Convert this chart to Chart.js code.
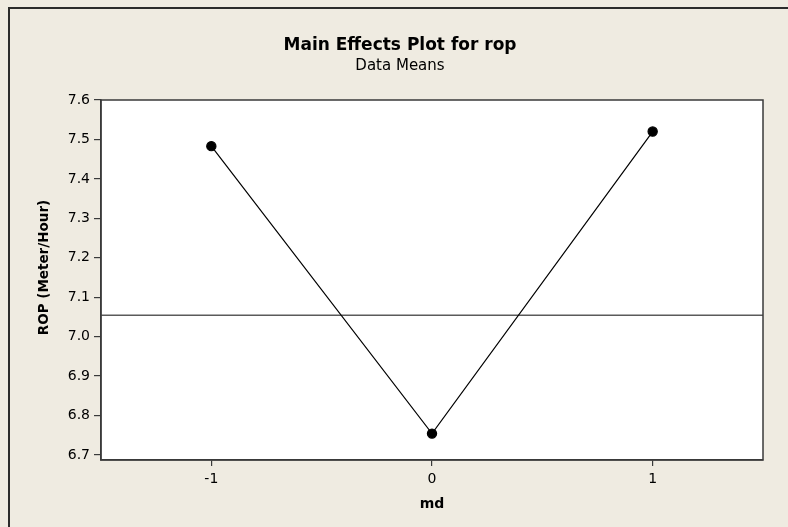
<!DOCTYPE html>
<html>
<head>
<meta charset="utf-8">
<script src="https://cdn.jsdelivr.net/npm/chart.js@4/dist/chart.umd.min.js"></script>
<style>
  html, body { margin: 0; padding: 0; background: #efebe1; }
  #wrap { width: 788px; height: 527px; }
</style>
</head>
<body>
<div id="wrap"><canvas id="c" width="788" height="527"></canvas></div>
<script>
// Factor levels of md and the mean ROP at each level
const levels = [-1, 0, 1];
const ropMeans = [7.483, 6.754, 7.520];
// Overall mean of the response (reference line)
const grandMean = 7.054;
// Tick labels
const xTicks = [-1, 0, 1];
const yTicks = [6.7, 6.8, 6.9, 7.0, 7.1, 7.2, 7.3, 7.4, 7.5, 7.6];
const yAxisTitle = 'ROP (Meter/Hour)';

const FONT = "'DejaVu Sans', Verdana, sans-serif";

// Beige panel with dark frame on top/left, white plot area with a dark border
const panelPlugin = {
  id: 'panel',
  beforeDraw(chart) {
    const { ctx, width, height, chartArea: a } = chart;
    ctx.save();
    ctx.fillStyle = '#efebe1';
    ctx.fillRect(0, 0, width, height);
    ctx.strokeStyle = '#2b2b2b';
    ctx.lineWidth = 2;
    ctx.beginPath();
    ctx.moveTo(9, height);
    ctx.lineTo(9, 8);
    ctx.lineTo(width, 8);
    ctx.stroke();
    ctx.fillStyle = '#ffffff';
    ctx.fillRect(a.left, a.top, a.right - a.left, a.bottom - a.top);
    ctx.restore();
  },
  afterDraw(chart) {
    const { ctx, chartArea: a } = chart;
    ctx.save();
    ctx.strokeStyle = '#3a3a3a';
    ctx.lineWidth = 1.5;
    ctx.strokeRect(a.left, a.top, a.right - a.left, a.bottom - a.top);
    // vertical axis title, centred on the whole panel height
    const yScale = chart.scales.y;
    ctx.translate(yScale.left + 7.5, (8 + chart.height) / 2);
    ctx.rotate(-Math.PI / 2);
    ctx.fillStyle = '#000000';
    ctx.font = 'bold 13.5px ' + FONT;
    ctx.textAlign = 'center';
    ctx.textBaseline = 'middle';
    ctx.fillText(yAxisTitle, 0, 0);
    ctx.restore();
  }
};

const xMin = -1.5, xMax = 1.5;

new Chart(document.getElementById('c'), {
  type: 'line',
  data: {
    datasets: [
      {
        label: 'Mean',
        data: [{ x: xMin, y: grandMean }, { x: xMax, y: grandMean }],
        borderColor: '#5a5a5a',
        borderWidth: 1.5,
        pointRadius: 0,
        order: 2
      },
      {
        label: 'rop',
        data: levels.map((l, i) => ({ x: l, y: ropMeans[i] })),
        borderColor: '#000000',
        borderWidth: 1.2,
        backgroundColor: '#000000',
        pointBackgroundColor: '#000000',
        pointBorderColor: '#000000',
        pointRadius: 4.6,
        pointHoverRadius: 4.6,
        tension: 0,
        order: 1
      }
    ]
  },
  plugins: [panelPlugin],
  options: {
    responsive: false,
    animation: false,
    events: [],
    layout: { padding: { top: 35, left: 37, right: 25, bottom: 0 } },
    plugins: {
      legend: { display: false },
      tooltip: { enabled: false },
      title: {
        display: true,
        text: 'Main Effects Plot for rop',
        color: '#000000',
        font: { family: FONT, size: 17, weight: 'bold' },
        padding: { top: 0, bottom: 0 }
      },
      subtitle: {
        display: true,
        text: 'Data Means',
        color: '#000000',
        font: { family: FONT, size: 15, weight: 'normal' },
        padding: { top: 2, bottom: 24.6 }
      }
    },
    scales: {
      x: {
        type: 'linear',
        min: xMin,
        max: xMax,
        afterFit(scale) { scale.height = 67; },
        afterBuildTicks(scale) { scale.ticks = xTicks.map(v => ({ value: v })); },
        grid: { drawOnChartArea: false, tickLength: 6, color: '#3a3a3a', lineWidth: 1.2 },
        border: { display: true, color: '#3a3a3a', width: 1.5 },
        ticks: {
          color: '#000000',
          padding: 5,
          font: { family: FONT, size: 14 },
          callback: v => String(v)
        },
        title: {
          display: true,
          text: 'md',
          color: '#000000',
          font: { family: FONT, size: 14, weight: 'bold' },
          padding: { top: 0, bottom: 14 }
        }
      },
      y: {
        type: 'linear',
        min: 6.687,
        max: 7.6,
        afterFit(scale) { scale.width = 64; },
        afterBuildTicks(scale) { scale.ticks = yTicks.map(v => ({ value: v })); },
        grid: { drawOnChartArea: false, tickLength: 7, color: '#3a3a3a', lineWidth: 1.2 },
        border: { display: true, color: '#3a3a3a', width: 1.5 },
        ticks: {
          color: '#000000',
          padding: 4,
          font: { family: FONT, size: 14 },
          callback: v => Number(v).toFixed(1)
        },
        title: { display: false }
      }
    }
  }
});
</script>
</body>
</html>
